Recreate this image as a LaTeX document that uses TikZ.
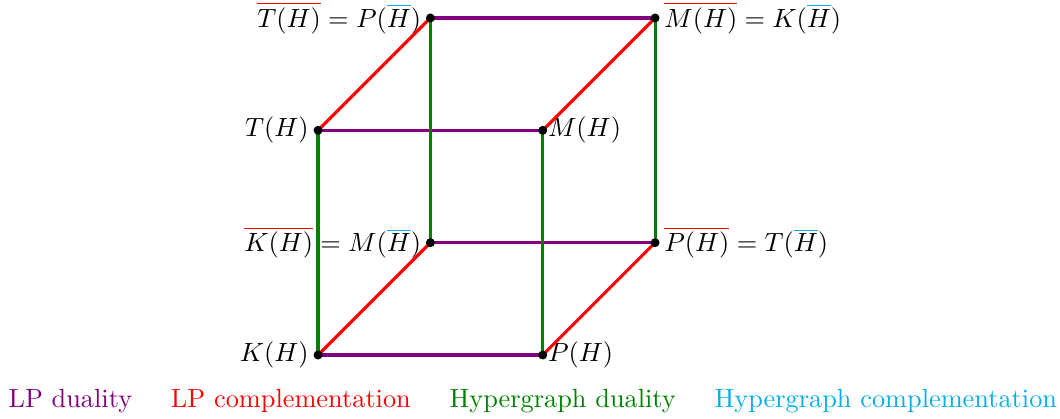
\documentclass[tikz,border=0pt]{standalone}
\usepackage{amsmath}
\usetikzlibrary{positioning}
\definecolor{lpdual}{RGB}{128,0,128}
\definecolor{hgdual}{RGB}{0,128,0}
\definecolor{hgcomp}{RGB}{0,174,239}
\newcommand{\lpbar}[1]{{\color{red}\overline{{\color{black}#1}}}}
\newcommand{\hgbar}[1]{{\color{hgcomp}\overline{{\color{black}#1}}}}

\begin{document}
\begin{tikzpicture}[lpd/.style={very thick,draw=lpdual}, lpc/.style={very thick,draw=red},
  hgd/.style={very thick,draw=hgdual},
  close/.style={label distance=-1.5pt}]
\useasboundingbox (-4.246,-0.841) rectangle (9.906,4.74);
% front face
\coordinate[label=left:{$K(H)$}] (K) at (0,0);
\coordinate[label={[close]right:{$P(H)$}}] (P) at (3,0);
\coordinate[label=left:{$T(H)$}] (T) at (0,3);
\coordinate[label={[close]right:{$M(H)$}}] (M) at (3,3);
% back face
\coordinate[label=left:{$\lpbar{K(H)} = M(\hgbar{H})$}] (Kb) at (1.5,1.5);
\coordinate[label=right:{$\lpbar{P(H)} = T(\hgbar{H})$}] (Pb) at (4.5,1.5);
\coordinate[label=left:{$\lpbar{T(H)} = P(\hgbar{H})$}] (Tb) at (1.5,4.5);
\coordinate[label=right:{$\lpbar{M(H)} = K(\hgbar{H})$}] (Mb) at (4.5,4.5);
% edges
\draw[lpd] (K) -- (P) (T) -- (M) (Kb) -- (Pb) (Tb) -- (Mb);
\draw[lpc] (K) -- (Kb) (P) -- (Pb) (T) -- (Tb) (M) -- (Mb);
\draw[hgd] (K) -- (T) (P) -- (M) (Kb) -- (Tb) (Pb) -- (Mb);
\foreach \v in {K,P,T,M,Kb,Pb,Tb,Mb}
  \fill (\v) circle (1.7pt);
% legend
\node[anchor=west,text=lpdual] (leg1) at (-4.256,-0.614) {LP duality};
\node[right=0.27cm of leg1,text=red] (leg2) {LP complementation};
\node[right=0.27cm of leg2,text=hgdual] (leg3) {Hypergraph duality};
\node[right=0.27cm of leg3,text=hgcomp] (leg4) {Hypergraph complementation};
\end{tikzpicture}
\end{document}
